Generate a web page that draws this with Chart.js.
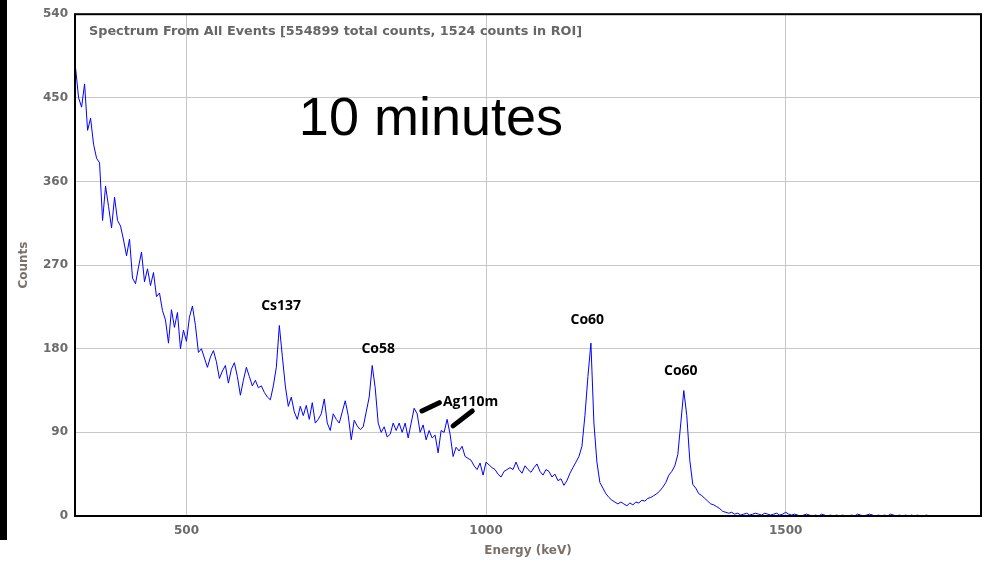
<!DOCTYPE html>
<html>
<head>
<meta charset="utf-8">
<script src="https://cdn.jsdelivr.net/npm/chart.js@4"></script>
<style>
  html, body { margin: 0; padding: 0; background: #fff; }
  #wrap { position: relative; width: 984px; height: 562px; }
  #strip { position: absolute; left: 0; top: 0; width: 7px; height: 540px; background: #000; }
</style>
</head>
<body>
<div id="wrap">
  <canvas id="myChart" width="984" height="562"></canvas>
  <div id="strip"></div>
</div>
<script>
// channel calibration (keV) and counts per channel
const energyStart = 315;
const energyStep = 5;
const counts = [
  482, 450, 440, 465, 415, 428, 400, 385, 380, 318,
  355, 333, 310, 343, 318, 312, 297, 280, 298, 256,
  250, 268, 284, 252, 266, 248, 262, 236, 240, 221,
  211, 186, 222, 203, 219, 180, 200, 188, 214, 226,
  205, 176, 180, 170, 160, 171, 178, 166, 148, 156,
  162, 143, 158, 165, 150, 130, 146, 160, 150, 140,
  146, 138, 140, 133, 128, 125, 140, 160, 205, 172,
  140, 118, 128, 112, 104, 118, 108, 119, 104, 122,
  100, 104, 110, 126, 100, 92, 110, 104, 100, 112,
  124, 108, 82, 103, 97, 93, 96, 112, 128, 162,
  138, 100, 90, 96, 85, 88, 100, 92, 100, 90,
  100, 84, 100, 116, 110, 90, 98, 82, 92, 84,
  87, 68, 92, 90, 104, 88, 64, 74, 70, 75,
  64, 62, 60, 54, 50, 57, 44, 58, 55, 52,
  50, 45, 42, 48, 50, 52, 50, 58, 50, 46,
  54, 50, 47, 52, 56, 48, 44, 50, 48, 42,
  45, 38, 40, 33, 38, 46, 52, 58, 64, 75,
  108, 150, 186, 100, 58, 36, 30, 24, 20, 17,
  15, 13, 15, 13, 11, 14, 12, 15, 14, 17,
  16, 19, 20, 22, 24, 27, 31, 36, 44, 48,
  54, 66, 100, 135, 108, 60, 34, 30, 24, 22,
  19, 16, 13, 12, 10, 8, 5, 4, 3, 4,
  2, 3, 1, 2, 3, 1, 2, 3, 2, 1,
  3, 2, 1, 2, 3, 1, 2, 4, 2, 1,
  2, 1, 0, 1, 2, 1, 0, 1, 0, 2,
  1, 0, 1, 0, 1, 0, 1, 0, 0, 1,
  0, 2, 1, 0, 1, 2, 1, 0, 1, 0,
  1, 0, 2, 1, 0, 1, 0, 1, 0, 1,
  0, 1, 0, 0, 1, 0, 0, 0, 0, 0,
  0, 0, 0, 0, 0, 0, 0, 0, 0, 0,
  0, 0
];

const xTicks = [500, 1000, 1500];
const yTicks = [0, 90, 180, 270, 360, 450, 540];

const peakNames = ['Cs137', 'Co58', 'Ag110m', 'Co60', 'Co60'];
const peakLabelEnergy = [658, 820, 928, 1169, 1325];
const peakLabelCounts = [226, 180, 123, 211, 156];
const peakLabelAlign = ['center', 'center', 'left', 'center', 'center'];

// pointer strokes for Ag110m: [E1, C1, E2, C2]
const agPointers = [[893, 113, 922, 122], [945, 97, 977, 113]];

const chartTitle = 'Spectrum From All Events [554899 total counts, 1524 counts in ROI]';
const bigNote = '10 minutes';

const points = counts.map((c, i) => ({ x: energyStart + i * energyStep, y: c }));

const annotations = {
    id: 'annotations',
    afterDatasetsDraw(chart) {
        const { ctx, chartArea, scales } = chart;
        const xs = scales.x, ys = scales.y;
        ctx.save();

        // frame around plot
        ctx.strokeStyle = '#000';
        ctx.lineWidth = 2;
        ctx.strokeRect(chartArea.left, chartArea.top, chartArea.right - chartArea.left, chartArea.bottom - chartArea.top);

        // header inside the plot
        ctx.fillStyle = '#666';
        ctx.font = 'bold 12.8px "DejaVu Sans"';
        ctx.textAlign = 'left';
        ctx.textBaseline = 'middle';
        ctx.fillText(chartTitle, chartArea.left + 14, chartArea.top + 17);

        // big note
        ctx.fillStyle = '#000';
        ctx.font = '54px "Liberation Sans"';
        ctx.textAlign = 'center';
        ctx.fillText(bigNote, xs.getPixelForValue(908), ys.getPixelForValue(426));

        // peak names
        ctx.font = 'bold 14px "Open Sans"';
        peakNames.forEach((name, i) => {
            ctx.textAlign = peakLabelAlign[i];
            ctx.fillText(name, xs.getPixelForValue(peakLabelEnergy[i]), ys.getPixelForValue(peakLabelCounts[i]));
        });

        ctx.lineWidth = 5;
        ctx.lineCap = 'round';
        agPointers.forEach(p => {
            ctx.beginPath();
            ctx.moveTo(xs.getPixelForValue(p[0]), ys.getPixelForValue(p[1]));
            ctx.lineTo(xs.getPixelForValue(p[2]), ys.getPixelForValue(p[3]));
            ctx.stroke();
        });
        ctx.restore();
    }
};

const tickFont = { family: 'DejaVu Sans', size: 12, weight: 'bold' };
const titleFont = { family: 'DejaVu Sans', size: 12, weight: 'bold' };

const ctx = document.getElementById('myChart').getContext('2d');
const myChart = new Chart(ctx, {
    type: 'line',
    data: {
        datasets: [{
            data: points,
            borderColor: '#0000ff',
            borderWidth: 1,
            pointRadius: 0,
            tension: 0,
            fill: false
        }]
    },
    options: {
        responsive: false,
        animation: false,
        layout: { padding: { left: 0, right: 3, top: 14, bottom: 0 } },
        plugins: { legend: { display: false }, tooltip: { enabled: false } },
        scales: {
            x: {
                type: 'linear',
                min: 314,
                max: 1826,
                afterBuildTicks: s => { s.ticks = xTicks.map(v => ({ value: v })); },
                afterFit: s => { s.height = 46; },
                grid: { color: '#c8c8c8', lineWidth: 1, drawTicks: false },
                border: { display: false },
                ticks: { color: '#6b6b6b', font: tickFont, padding: 8, maxRotation: 0, callback: v => String(v) },
                title: { display: true, text: 'Energy (keV)', color: '#7a7068', font: titleFont, padding: { top: 0, bottom: 4 } }
            },
            y: {
                min: 0,
                max: 540,
                afterBuildTicks: s => { s.ticks = yTicks.map(v => ({ value: v })); },
                afterFit: s => { s.width = 75; },
                grid: { color: '#c8c8c8', lineWidth: 1, drawTicks: false },
                border: { display: false },
                ticks: { color: '#6b6b6b', font: tickFont, padding: 7, callback: v => String(v) },
                title: { display: true, text: 'Counts', color: '#7a7068', font: titleFont, padding: { top: 17, bottom: 0 } }
            }
        }
    },
    plugins: [annotations]
});
</script>
</body>
</html>
